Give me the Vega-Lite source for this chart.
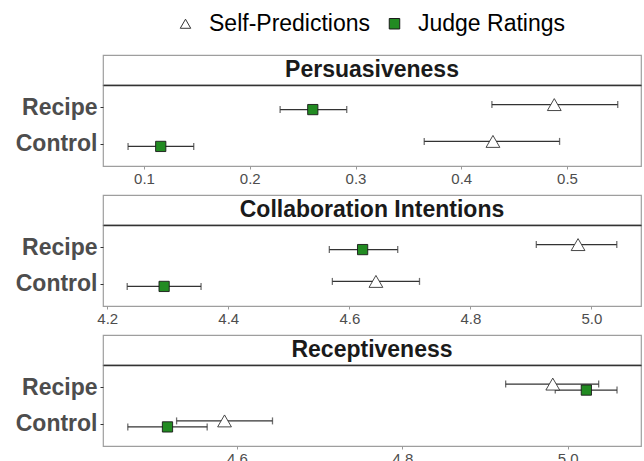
{
  "$schema": "https://vega.github.io/schema/vega-lite/v6.json",
  "padding": {"left": 14, "top": 12, "right": 2, "bottom": 0},
  "background": "white",
  "datasets": {
    "pts": [
      {"panel": "Persuasiveness", "condition": "Recipe", "series": "Self-Predictions", "est": 0.488, "lo": 0.429, "hi": 0.548},
      {"panel": "Persuasiveness", "condition": "Control", "series": "Self-Predictions", "est": 0.430, "lo": 0.365, "hi": 0.493},
      {"panel": "Persuasiveness", "condition": "Recipe", "series": "Judge Ratings", "est": 0.2596, "lo": 0.2287, "hi": 0.2917},
      {"panel": "Persuasiveness", "condition": "Control", "series": "Judge Ratings", "est": 0.1158, "lo": 0.0849, "hi": 0.147},
      {"panel": "Collaboration Intentions", "condition": "Recipe", "series": "Self-Predictions", "est": 4.978, "lo": 4.909, "hi": 5.042},
      {"panel": "Collaboration Intentions", "condition": "Control", "series": "Self-Predictions", "est": 4.644, "lo": 4.572, "hi": 4.716},
      {"panel": "Collaboration Intentions", "condition": "Recipe", "series": "Judge Ratings", "est": 4.622, "lo": 4.567, "hi": 4.680},
      {"panel": "Collaboration Intentions", "condition": "Control", "series": "Judge Ratings", "est": 4.294, "lo": 4.233, "hi": 4.355},
      {"panel": "Receptiveness", "condition": "Recipe", "series": "Self-Predictions", "est": 4.982, "lo": 4.925, "hi": 5.0375},
      {"panel": "Receptiveness", "condition": "Control", "series": "Self-Predictions", "est": 4.585, "lo": 4.527, "hi": 4.643},
      {"panel": "Receptiveness", "condition": "Recipe", "series": "Judge Ratings", "est": 5.0226, "lo": 4.985, "hi": 5.0597},
      {"panel": "Receptiveness", "condition": "Control", "series": "Judge Ratings", "est": 4.516, "lo": 4.468, "hi": 4.564}
    ]
  },
  "vconcat": [
    {
      "vconcat": [
        {
          "width": 538, "height": 30,
          "data": {"values": [{"panel": "Persuasiveness"}]},
          "mark": {"type": "text", "fontSize": 23, "fontWeight": "bold", "font": "Liberation Sans", "color": "#1A1A1A", "baseline": "middle"},
          "encoding": {"x": {"field": "panel", "type": "nominal", "axis": null, "scale": {"type": "point", "padding": 0.5}}, "text": {"field": "panel"}}
        },
        {
          "width": 538, "height": 81,
          "data": {"name": "pts"},
          "transform": [{"filter": "datum.panel === 'Persuasiveness'"}],
          "encoding": {
            "y": {"field": "condition", "type": "nominal", "sort": ["Recipe", "Control"], "scale": {"type": "point", "padding": 0.6}, "axis": {"title": null, "domain": false, "labelFontSize": 23, "labelFontWeight": "bold", "labelColor": "#4D4D4D", "labelFont": "Liberation Sans", "tickColor": "#333333", "tickSize": 3, "labelPadding": 3}},
            "yOffset": {"field": "series", "type": "nominal", "sort": ["Self-Predictions", "Judge Ratings"], "scale": {"type": "point", "padding": 0, "range": [-2.5, 2.5]}}
          },
          "layer": [
            {"mark": {"type": "rule", "color": "#333333", "strokeWidth": 1.3},
             "encoding": {"x": {"field": "lo", "type": "quantitative", "scale": {"domain": [0.0612, 0.570], "nice": false, "zero": false}, "axis": {"values": [0.1, 0.2, 0.3, 0.4, 0.5], "title": null, "grid": false, "domain": false, "labelFontSize": 15, "labelColor": "#4D4D4D", "labelFont": "Liberation Sans", "tickColor": "#999999", "tickSize": 3, "labelPadding": 2}}, "x2": {"field": "hi"}}},
            {"mark": {"type": "tick", "orient": "vertical", "size": 7, "thickness": 1.3, "color": "#333333"},
             "encoding": {"x": {"field": "lo", "type": "quantitative", "axis": null}}},
            {"mark": {"type": "tick", "orient": "vertical", "size": 7, "thickness": 1.3, "color": "#333333"},
             "encoding": {"x": {"field": "hi", "type": "quantitative", "axis": null}}},
            {"transform": [{"filter": "datum.series === 'Self-Predictions'"}],
             "mark": {"type": "point", "filled": true, "opacity": 1, "strokeWidth": 0.9, "size": 190},
             "encoding": {
               "x": {"field": "est", "type": "quantitative", "axis": {"orient": "top", "labels": false, "ticks": false, "grid": false, "title": null, "domain": true, "domainColor": "#333333", "domainWidth": 1.3}},
               "shape": {"field": "series", "type": "nominal", "scale": {"domain": ["Self-Predictions", "Judge Ratings"], "range": ["triangle-up", "square"]}, "legend": {"title": null}},
               "fill": {"field": "series", "type": "nominal", "scale": {"domain": ["Self-Predictions", "Judge Ratings"], "range": ["#FFFFFF", "#228B22"]}, "legend": {"title": null}},
               "stroke": {"field": "series", "type": "nominal", "scale": {"domain": ["Self-Predictions", "Judge Ratings"], "range": ["#333333", "#1A1A1A"]}, "legend": {"title": null}}
             }},
            {"transform": [{"filter": "datum.series === 'Judge Ratings'"}],
             "mark": {"type": "point", "filled": true, "opacity": 1, "strokeWidth": 0.9, "size": 105},
             "encoding": {
               "x": {"field": "est", "type": "quantitative", "axis": null},
               "shape": {"field": "series", "type": "nominal", "legend": {"title": null}},
               "fill": {"field": "series", "type": "nominal", "legend": {"title": null}},
               "stroke": {"field": "series", "type": "nominal", "legend": {"title": null}}
             }}
          ],
          "resolve": {"axis": {"x": "independent"}}
        }
      ],
      "spacing": 0,
      "bounds": "flush"
    },
    {
      "vconcat": [
        {
          "width": 538, "height": 30,
          "data": {"values": [{"panel": "Collaboration Intentions"}]},
          "mark": {"type": "text", "fontSize": 23, "fontWeight": "bold", "font": "Liberation Sans", "color": "#1A1A1A", "baseline": "middle"},
          "encoding": {"x": {"field": "panel", "type": "nominal", "axis": null, "scale": {"type": "point", "padding": 0.5}}, "text": {"field": "panel"}}
        },
        {
          "width": 538, "height": 81,
          "data": {"name": "pts"},
          "transform": [{"filter": "datum.panel === 'Collaboration Intentions'"}],
          "encoding": {
            "y": {"field": "condition", "type": "nominal", "sort": ["Recipe", "Control"], "scale": {"type": "point", "padding": 0.6}, "axis": {"title": null, "domain": false, "labelFontSize": 23, "labelFontWeight": "bold", "labelColor": "#4D4D4D", "labelFont": "Liberation Sans", "tickColor": "#333333", "tickSize": 3, "labelPadding": 3}},
            "yOffset": {"field": "series", "type": "nominal", "sort": ["Self-Predictions", "Judge Ratings"], "scale": {"type": "point", "padding": 0, "range": [-2.5, 2.5]}}
          },
          "layer": [
            {"mark": {"type": "rule", "color": "#333333", "strokeWidth": 1.3},
             "encoding": {"x": {"field": "lo", "type": "quantitative", "scale": {"domain": [4.193, 5.082], "nice": false, "zero": false}, "axis": {"values": [4.2, 4.4, 4.6, 4.8, 5.0], "format": ".1f", "title": null, "grid": false, "domain": false, "labelFontSize": 15, "labelColor": "#4D4D4D", "labelFont": "Liberation Sans", "tickColor": "#999999", "tickSize": 3, "labelPadding": 2}}, "x2": {"field": "hi"}}},
            {"mark": {"type": "tick", "orient": "vertical", "size": 7, "thickness": 1.3, "color": "#333333"},
             "encoding": {"x": {"field": "lo", "type": "quantitative", "axis": null}}},
            {"mark": {"type": "tick", "orient": "vertical", "size": 7, "thickness": 1.3, "color": "#333333"},
             "encoding": {"x": {"field": "hi", "type": "quantitative", "axis": null}}},
            {"transform": [{"filter": "datum.series === 'Self-Predictions'"}],
             "mark": {"type": "point", "filled": true, "opacity": 1, "strokeWidth": 0.9, "size": 190},
             "encoding": {
               "x": {"field": "est", "type": "quantitative", "axis": {"orient": "top", "labels": false, "ticks": false, "grid": false, "title": null, "domain": true, "domainColor": "#333333", "domainWidth": 1.3}},
               "shape": {"field": "series", "type": "nominal", "scale": {"domain": ["Self-Predictions", "Judge Ratings"], "range": ["triangle-up", "square"]}, "legend": {"title": null}},
               "fill": {"field": "series", "type": "nominal", "scale": {"domain": ["Self-Predictions", "Judge Ratings"], "range": ["#FFFFFF", "#228B22"]}, "legend": {"title": null}},
               "stroke": {"field": "series", "type": "nominal", "scale": {"domain": ["Self-Predictions", "Judge Ratings"], "range": ["#333333", "#1A1A1A"]}, "legend": {"title": null}}
             }},
            {"transform": [{"filter": "datum.series === 'Judge Ratings'"}],
             "mark": {"type": "point", "filled": true, "opacity": 1, "strokeWidth": 0.9, "size": 105},
             "encoding": {
               "x": {"field": "est", "type": "quantitative", "axis": null},
               "shape": {"field": "series", "type": "nominal", "legend": {"title": null}},
               "fill": {"field": "series", "type": "nominal", "legend": {"title": null}},
               "stroke": {"field": "series", "type": "nominal", "legend": {"title": null}}
             }}
          ],
          "resolve": {"axis": {"x": "independent"}}
        }
      ],
      "spacing": 0,
      "bounds": "flush"
    },
    {
      "vconcat": [
        {
          "width": 538, "height": 30,
          "data": {"values": [{"panel": "Receptiveness"}]},
          "mark": {"type": "text", "fontSize": 23, "fontWeight": "bold", "font": "Liberation Sans", "color": "#1A1A1A", "baseline": "middle"},
          "encoding": {"x": {"field": "panel", "type": "nominal", "axis": null, "scale": {"type": "point", "padding": 0.5}}, "text": {"field": "panel"}}
        },
        {
          "width": 538, "height": 81,
          "data": {"name": "pts"},
          "transform": [{"filter": "datum.panel === 'Receptiveness'"}],
          "encoding": {
            "y": {"field": "condition", "type": "nominal", "sort": ["Recipe", "Control"], "scale": {"type": "point", "padding": 0.6}, "axis": {"title": null, "domain": false, "labelFontSize": 23, "labelFontWeight": "bold", "labelColor": "#4D4D4D", "labelFont": "Liberation Sans", "tickColor": "#333333", "tickSize": 3, "labelPadding": 3}},
            "yOffset": {"field": "series", "type": "nominal", "sort": ["Self-Predictions", "Judge Ratings"], "scale": {"type": "point", "padding": 0, "range": [-3, 3]}}
          },
          "layer": [
            {"mark": {"type": "rule", "color": "#333333", "strokeWidth": 1.3},
             "encoding": {"x": {"field": "lo", "type": "quantitative", "scale": {"domain": [4.438, 5.0887], "nice": false, "zero": false}, "axis": {"values": [4.6, 4.8, 5.0], "format": ".1f", "title": null, "grid": false, "domain": false, "labelFontSize": 15, "labelColor": "#4D4D4D", "labelFont": "Liberation Sans", "tickColor": "#999999", "tickSize": 3, "labelPadding": 2}}, "x2": {"field": "hi"}}},
            {"mark": {"type": "tick", "orient": "vertical", "size": 7, "thickness": 1.3, "color": "#333333"},
             "encoding": {"x": {"field": "lo", "type": "quantitative", "axis": null}}},
            {"mark": {"type": "tick", "orient": "vertical", "size": 7, "thickness": 1.3, "color": "#333333"},
             "encoding": {"x": {"field": "hi", "type": "quantitative", "axis": null}}},
            {"transform": [{"filter": "datum.series === 'Self-Predictions'"}],
             "mark": {"type": "point", "filled": true, "opacity": 1, "strokeWidth": 0.9, "size": 190},
             "encoding": {
               "x": {"field": "est", "type": "quantitative", "axis": {"orient": "top", "labels": false, "ticks": false, "grid": false, "title": null, "domain": true, "domainColor": "#333333", "domainWidth": 1.3}},
               "shape": {"field": "series", "type": "nominal", "scale": {"domain": ["Self-Predictions", "Judge Ratings"], "range": ["triangle-up", "square"]}, "legend": {"title": null}},
               "fill": {"field": "series", "type": "nominal", "scale": {"domain": ["Self-Predictions", "Judge Ratings"], "range": ["#FFFFFF", "#228B22"]}, "legend": {"title": null}},
               "stroke": {"field": "series", "type": "nominal", "scale": {"domain": ["Self-Predictions", "Judge Ratings"], "range": ["#333333", "#1A1A1A"]}, "legend": {"title": null}}
             }},
            {"transform": [{"filter": "datum.series === 'Judge Ratings'"}],
             "mark": {"type": "point", "filled": true, "opacity": 1, "strokeWidth": 0.9, "size": 105},
             "encoding": {
               "x": {"field": "est", "type": "quantitative", "axis": null},
               "shape": {"field": "series", "type": "nominal", "legend": {"title": null}},
               "fill": {"field": "series", "type": "nominal", "legend": {"title": null}},
               "stroke": {"field": "series", "type": "nominal", "legend": {"title": null}}
             }}
          ],
          "resolve": {"axis": {"x": "independent"}}
        }
      ],
      "spacing": 0,
      "bounds": "flush"
    }
  ],
  "spacing": 7,
  "resolve": {"scale": {"x": "independent", "y": "independent", "yOffset": "independent", "shape": "shared", "fill": "shared", "stroke": "shared"}, "legend": {"shape": "shared", "fill": "shared", "stroke": "shared"}},
  "config": {
    "font": "Liberation Sans",
    "view": {"stroke": "#9E9E9E", "strokeWidth": 1.2},
    "legend": {"orient": "none", "legendX": 71, "legendY": -43, "direction": "horizontal", "labelFontSize": 23, "labelLimit": 0, "labelColor": "#000000", "labelFont": "Liberation Sans", "symbolSize": 110, "symbolStrokeWidth": 1, "columnPadding": 12, "labelOffset": 12}
  }
}
